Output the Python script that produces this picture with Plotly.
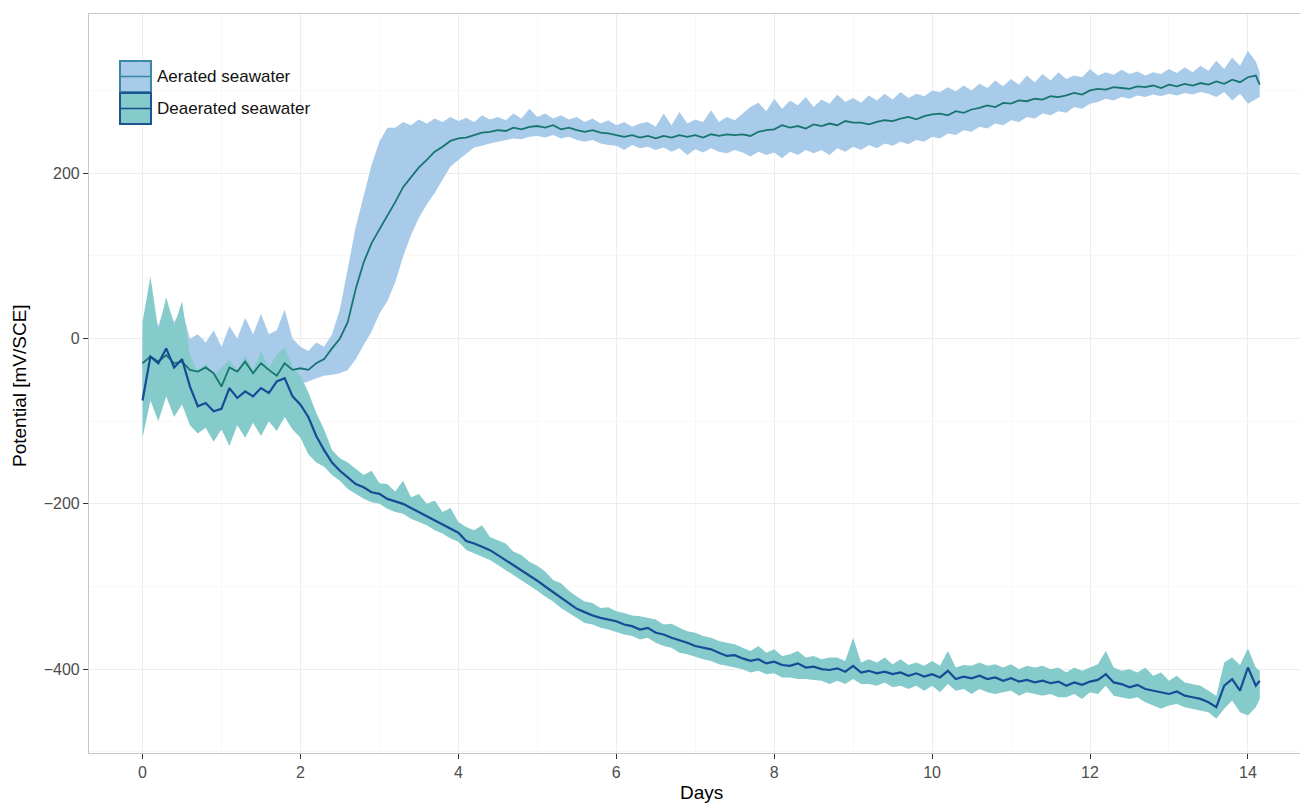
import plotly.graph_objects as go

# ---------------- data ----------------
days = [0.0, 0.1, 0.2, 0.3, 0.4, 0.5, 0.6, 0.7, 0.8, 0.9,
        1.0, 1.1, 1.2, 1.3, 1.4, 1.5, 1.6, 1.7, 1.8, 1.9,
        2.0, 2.1, 2.2, 2.3, 2.4, 2.5, 2.6, 2.7, 2.8, 2.9,
        3.0, 3.1, 3.2, 3.3, 3.4, 3.5, 3.6, 3.7, 3.8, 3.9,
        4.0, 4.1, 4.2, 4.3, 4.4, 4.5, 4.6, 4.7, 4.8, 4.9,
        5.0, 5.1, 5.2, 5.3, 5.4, 5.5, 5.6, 5.7, 5.8, 5.9,
        6.0, 6.1, 6.2, 6.3, 6.4, 6.5, 6.6, 6.7, 6.8, 6.9,
        7.0, 7.1, 7.2, 7.3, 7.4, 7.5, 7.6, 7.7, 7.8, 7.9,
        8.0, 8.1, 8.2, 8.3, 8.4, 8.5, 8.6, 8.7, 8.8, 8.9,
        9.0, 9.1, 9.2, 9.3, 9.4, 9.5, 9.6, 9.7, 9.8, 9.9,
        10.0, 10.1, 10.2, 10.3, 10.4, 10.5, 10.6, 10.7, 10.8, 10.9,
        11.0, 11.1, 11.2, 11.3, 11.4, 11.5, 11.6, 11.7, 11.8, 11.9,
        12.0, 12.1, 12.2, 12.3, 12.4, 12.5, 12.6, 12.7, 12.8, 12.9,
        13.0, 13.1, 13.2, 13.3, 13.4, 13.5, 13.6, 13.7, 13.8, 13.9,
        14.0, 14.1, 14.15]

aerated_mean = [-30, -22, -28, -20, -30, -28, -38, -40, -35, -42,
                -58, -35, -40, -28, -42, -30, -38, -45, -30, -38,
                -36, -38, -30, -25, -12, 0, 20, 60, 92, 115,
                132, 148, 165, 183, 195, 207, 216, 226, 232, 239,
                242, 243, 246, 249, 250, 252, 251, 255, 253, 256,
                257, 255, 258, 253, 255, 252, 250, 252, 249, 248,
                246, 244, 246, 243, 245, 242, 245, 243, 246, 244,
                246, 243, 247, 245, 247, 246, 247, 245, 250, 252,
                253, 258, 255, 257, 254, 259, 257, 260, 258, 263,
                261, 261, 259, 262, 264, 263, 266, 268, 265, 269,
                271, 272, 270, 275, 273, 277, 279, 282, 280, 285,
                284, 288, 287, 290, 289, 293, 292, 294, 297, 295,
                300, 302, 301, 304, 303, 302, 305, 304, 306, 303,
                307, 305, 308, 306, 309, 307, 311, 308, 313, 310,
                316, 318, 307]

aerated_upper = [10, 40, 15, 45, 20, 35, 0, 5, -5, 10,
                 -10, 15, 0, 25, 5, 30, 5, 10, 35, 0,
                 -10, -15, -5, -10, 5, 35, 85, 135, 172, 210,
                 238, 255, 255, 262, 258, 265, 260, 266, 262, 268,
                 263, 267, 262, 270, 265, 268, 264, 272, 266, 278,
                 268, 272, 266, 270, 265, 268, 262, 266, 260, 264,
                 258, 262, 256, 260, 262, 256, 272, 258, 274, 260,
                 265, 262, 276, 262, 268, 264, 272, 280, 285, 275,
                 290, 278, 288, 282, 292, 280, 289, 284, 295, 286,
                 291, 285, 294, 288, 296, 289, 298, 291, 296, 293,
                 300, 298, 304, 299, 306, 300, 308, 303, 312, 305,
                 314, 307, 318, 310, 320, 312, 322, 314, 318, 316,
                 326, 318, 322, 319, 325, 320, 323, 318, 322, 320,
                 326, 321, 328, 322, 330, 324, 336, 326, 340, 330,
                 348, 335, 322]

aerated_lower = [-70, -55, -65, -50, -62, -55, -65, -60, -68, -62,
                 -75, -60, -66, -58, -64, -56, -62, -66, -60, -64,
                 -55, -52, -48, -45, -44, -42, -38, -25, -8, 8,
                 30, 45, 68, 99, 125, 146, 162, 176, 192, 208,
                 216, 224, 231, 233, 236, 238, 240, 242, 241, 244,
                 245, 243, 246, 242, 244, 240, 238, 240, 236, 234,
                 233, 228, 234, 230, 232, 228, 231, 226, 230, 222,
                 229, 225, 230, 226, 224, 228, 225, 220, 226, 222,
                 225, 218, 226, 222, 228, 224, 228, 222, 230, 226,
                 232, 228, 234, 230, 236, 233, 238, 235, 240, 238,
                 244, 242, 248, 246, 252, 250, 256, 254, 260, 258,
                 264, 262, 268, 266, 272, 270, 275, 273, 280, 278,
                 284, 286, 290, 288, 292, 290, 294, 292, 295, 293,
                 296, 294, 297, 295, 298, 296, 292, 298, 288, 296,
                 284, 290, 292]

deaerated_mean = [-75, -22, -30, -12, -35, -25, -58, -82, -78, -88,
                  -85, -60, -72, -64, -70, -60, -66, -52, -48, -70,
                  -80, -95, -118, -135, -150, -160, -168, -176, -180, -186,
                  -188, -194, -197, -200, -205, -210, -214, -220, -225, -230,
                  -235, -245, -248, -252, -256, -262, -268, -275, -281, -287,
                  -293, -300, -307, -314, -321, -327, -331, -335, -338, -340,
                  -342, -346, -348, -352, -350, -356, -358, -362, -365, -368,
                  -372, -374, -376, -380, -384, -383, -387, -390, -388, -393,
                  -391, -395, -396, -393, -398, -397, -400, -401, -399, -403,
                  -396, -404, -402, -405, -403, -406, -404, -408, -405, -409,
                  -406, -410, -402, -412, -409, -411, -408, -412, -410, -414,
                  -411, -415, -413, -416, -414, -417, -415, -420, -416, -419,
                  -415, -413, -406, -416, -418, -422, -419, -424, -426, -428,
                  -430, -427, -432, -434, -436, -440, -446, -420, -412, -426,
                  -398, -420, -414]

deaerated_upper = [20, 75, 10, 50, 15, 45, -20, -40, -30, -45,
                   -35, -25, -40, -20, -38, -15, -35, -20, -10, -35,
                   -45, -65, -90, -110, -135, -145, -150, -158, -165, -160,
                   -175, -176, -185, -172, -192, -188, -200, -196, -210, -205,
                   -222, -228, -232, -226, -240, -244, -248, -258, -262, -270,
                   -275, -282, -292, -296, -305, -312, -318, -320, -326, -325,
                   -330, -332, -335, -336, -338, -340, -346, -345, -350, -354,
                   -356, -360, -362, -366, -368, -370, -374, -378, -372, -380,
                   -376, -384, -382, -378, -386, -384, -388, -386, -386, -390,
                   -362, -392, -388, -392, -386, -394, -388, -395, -392, -396,
                   -390, -396, -378, -398, -395, -396, -392, -396, -394, -398,
                   -394, -400, -396, -398, -396, -400, -398, -404, -398, -402,
                   -398, -394, -378, -398, -402, -400, -404, -398, -408, -404,
                   -414, -408, -416, -418, -420, -426, -432, -392, -386, -395,
                   -375, -398, -402]

deaerated_lower = [-120, -75, -100, -70, -95, -80, -105, -115, -108, -125,
                   -110, -130, -105, -120, -102, -118, -100, -112, -95, -110,
                   -120, -140, -150, -155, -165, -172, -182, -188, -194, -198,
                   -200, -206, -210, -212, -218, -222, -226, -232, -236, -242,
                   -246, -256, -260, -264, -268, -274, -280, -286, -293, -298,
                   -305, -312, -318, -326, -332, -338, -344, -346, -350, -352,
                   -355, -358, -360, -364, -362, -368, -372, -374, -380, -382,
                   -385, -388, -390, -394, -396, -398, -400, -404, -402, -406,
                   -405, -410, -410, -412, -412, -413, -414, -418, -414, -418,
                   -412, -418, -418, -420, -416, -422, -420, -424, -420, -426,
                   -420, -428, -418, -426, -424, -430, -424, -428, -430, -428,
                   -426, -432, -428, -430, -432, -430, -434, -434, -430, -436,
                   -428, -430, -420, -432, -434, -436, -434, -440, -444, -448,
                   -444, -442, -446, -448, -450, -452, -460, -448, -438, -452,
                   -456, -446, -436]

series_names = ["Aerated seawater", "Deaerated seawater"]
x_ticks = [0, 2, 4, 6, 8, 10, 12, 14]
y_ticks = [-400, -200, 0, 200]

# ---------------- styles ----------------
A_FILL = "#A9CBEA"
D_FILL = "#86CBCB"
A_LINE = "#17756F"
D_LINE = "#174B95"
A_KEY_BORDER = "#3C86A6"
D_KEY_BORDER = "#1C5492"
FONT = "Liberation Sans, Arial, Helvetica, sans-serif"

# the page body adds an 8 px margin: figure is placed at page (8, 8)
OFF = 8
W, H = 1300, 796
ML, MR, MT, MB = 81, 0, 6, 51
PW, PH = W - ML - MR, H - MT - MB


def px_x(px_page):
    return (px_page - OFF - ML) / PW


def px_y(py_page):
    return (H - MB - (py_page - OFF)) / PH


fig = go.Figure()

# ribbons
fig.add_trace(go.Scatter(x=days, y=aerated_lower, mode="lines", line=dict(width=0),
                         showlegend=False, hoverinfo="skip"))
fig.add_trace(go.Scatter(x=days, y=aerated_upper, mode="lines", line=dict(width=0),
                         fill="tonexty", fillcolor=A_FILL, showlegend=False, hoverinfo="skip"))
fig.add_trace(go.Scatter(x=days, y=deaerated_lower, mode="lines", line=dict(width=0),
                         showlegend=False, hoverinfo="skip"))
fig.add_trace(go.Scatter(x=days, y=deaerated_upper, mode="lines", line=dict(width=0),
                         fill="tonexty", fillcolor=D_FILL, showlegend=False, hoverinfo="skip"))
# mean lines
fig.add_trace(go.Scatter(x=days, y=aerated_mean, mode="lines", name=series_names[0],
                         line=dict(color=A_LINE, width=1.8), showlegend=False))
fig.add_trace(go.Scatter(x=days, y=deaerated_mean, mode="lines", name=series_names[1],
                         line=dict(color=D_LINE, width=2.2), showlegend=False))

# manual legend (ggplot-style keys)
shapes = []
annotations = []
keys = [(61, 92, A_FILL, A_KEY_BORDER, A_KEY_BORDER),
        (93, 124, D_FILL, D_KEY_BORDER, D_KEY_BORDER)]
for (y0, y1, fc, bc, lc), name in zip(keys, series_names):
    shapes.append(dict(type="rect", xref="paper", yref="paper",
                       x0=px_x(120), x1=px_x(151), y0=px_y(y1), y1=px_y(y0),
                       fillcolor=fc, line=dict(color=bc, width=2), layer="above"))
    ym = (y0 + y1) / 2
    shapes.append(dict(type="line", xref="paper", yref="paper",
                       x0=px_x(121), x1=px_x(150), y0=px_y(ym), y1=px_y(ym),
                       line=dict(color=lc, width=1.6), layer="above"))
    annotations.append(dict(text=name, xref="paper", yref="paper",
                            x=px_x(155), y=px_y(ym), xanchor="left", yanchor="middle",
                            showarrow=False, font=dict(family=FONT, size=17, color="#111111")))

# axis titles
annotations.append(dict(text="Days", xref="paper", yref="paper", x=px_x(701), y=px_y(792),
                        xanchor="center", yanchor="middle", showarrow=False,
                        font=dict(family=FONT, size=19, color="#000000")))
annotations.append(dict(text="Potential [mV/SCE]", xref="paper", yref="paper",
                        x=px_x(19), y=px_y(386),
                        xanchor="center", yanchor="middle", textangle=-90,
                        showarrow=False, font=dict(family=FONT, size=19, color="#000000")))

fig.update_layout(
    width=W, height=H,
    margin=dict(l=ML, r=MR, t=MT, b=MB, pad=0),
    paper_bgcolor="white", plot_bgcolor="white",
    font=dict(family=FONT, color="#4D4D4D"),
    shapes=shapes, annotations=annotations,
    showlegend=False,
)
fig.update_xaxes(
    range=[-0.678, 14.761], tickvals=x_ticks, ticktext=[str(v) for v in x_ticks],
    showgrid=True, gridcolor="#EDEDED", gridwidth=1,
    minor=dict(dtick=1, tick0=0, showgrid=True, gridcolor="#F8F8F8", gridwidth=0.6),
    ticks="outside", ticklen=5, tickcolor="#333333", tickwidth=1.2,
    tickfont=dict(family=FONT, size=16, color="#4D4D4D"),
    showline=True, linecolor="#C8C8C8", linewidth=1.2, mirror=True,
    zeroline=False,
)
fig.update_yaxes(
    range=[-501.4, 392.5], tickvals=y_ticks, ticktext=["\u2212400", "\u2212200", "0", "200"],
    showgrid=True, gridcolor="#EDEDED", gridwidth=1,
    minor=dict(dtick=100, tick0=0, showgrid=True, gridcolor="#F8F8F8", gridwidth=0.6),
    ticks="outside", ticklen=5, tickcolor="#333333", tickwidth=1.2,
    tickfont=dict(family=FONT, size=16, color="#4D4D4D"),
    showline=True, linecolor="#C8C8C8", linewidth=1.2, mirror=False,
    zeroline=False,
)

fig.write_html("out.html")
